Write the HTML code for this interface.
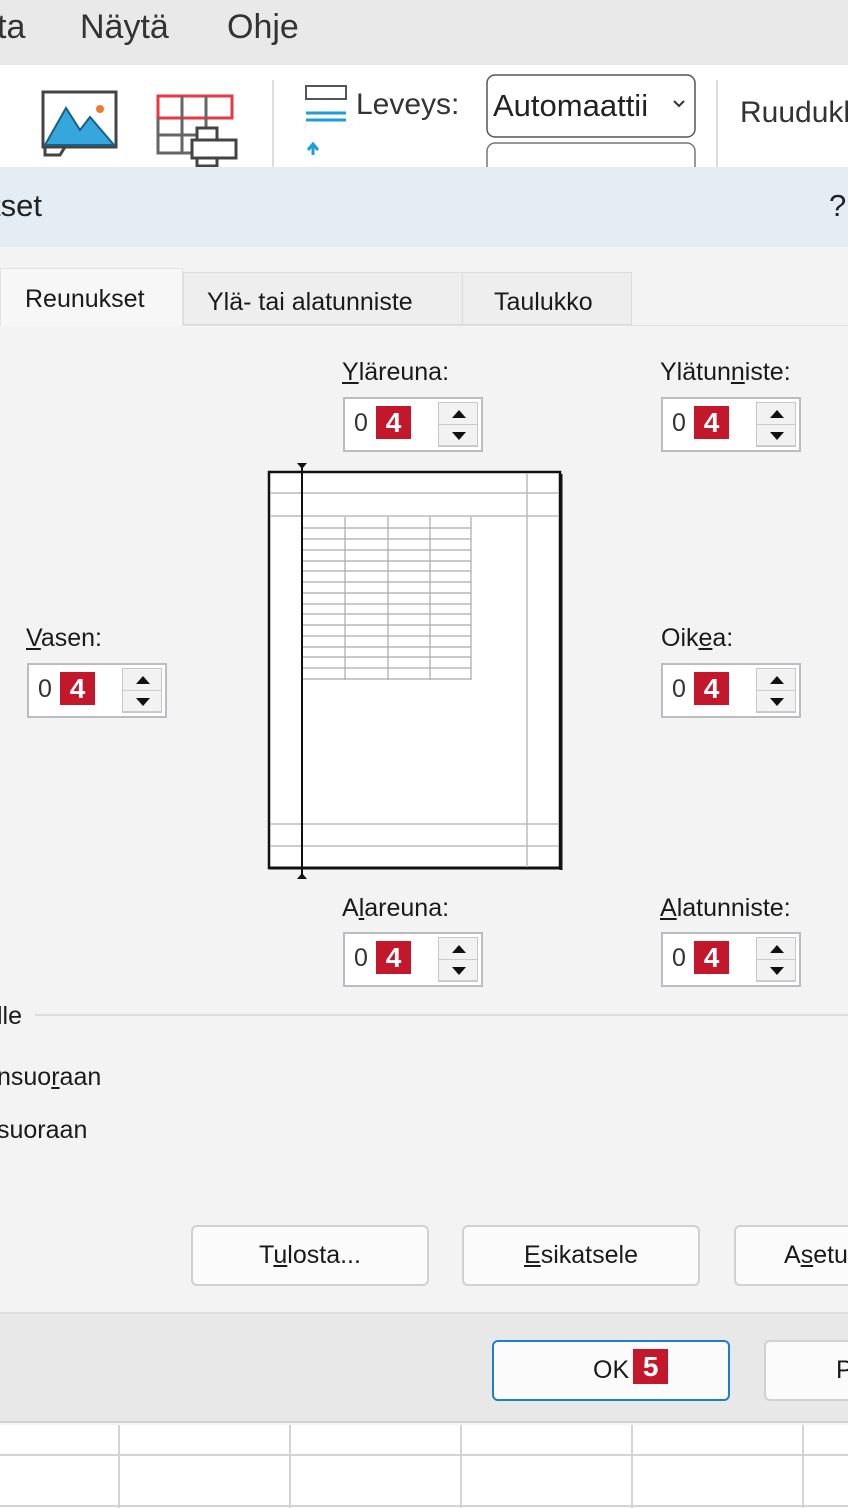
<!DOCTYPE html>
<html><head><meta charset="utf-8"><style>
*{margin:0;padding:0;box-sizing:border-box}
body{width:848px;height:1508px;position:relative;overflow:hidden;background:#f4f4f4;font-family:"Liberation Sans",sans-serif;color:#1a1a1a}
.a{position:absolute;white-space:nowrap}
.lbl{font-size:25px}
.box{position:absolute;width:140px;height:55px;border:2px solid #b9bcc0;background:#fff}
.box .z{position:absolute;left:9px;top:10px;font-size:25px;color:#333}
.box .b{position:absolute;left:31px;top:7px;width:35px;height:33px;background:#c3172b;color:#fff;font-weight:bold;font-size:28px;text-align:center;line-height:33px}
.box .sp{position:absolute;left:93px;top:3px;width:40px;height:45px;background:#f2f2f2;border:1px solid #c8c8c8}
.box .sp div{height:50%;border-bottom:1px solid #ccc;position:relative}
.tri-u{position:absolute;left:13px;top:7px;border-left:7px solid transparent;border-right:7px solid transparent;border-bottom:8px solid #111}
.tri-d{position:absolute;left:13px;top:7px;border-left:7px solid transparent;border-right:7px solid transparent;border-top:8px solid #111}
.btn{position:absolute;height:61px;border:2px solid #cfd1d3;border-radius:6px;background:#fbfbfb;font-size:25px;text-align:center;line-height:57px}
</style></head><body>
<div class="a" style="left:0;top:0;width:848px;height:65px;background:#e9e9e9"></div>
<div class="a" style="left:-3px;top:8px;font-size:34px;color:#333">ta</div>
<div class="a" style="left:80px;top:8px;font-size:34px;color:#333">Näytä</div>
<div class="a" style="left:227px;top:8px;font-size:34px;color:#333">Ohje</div>
<div class="a" style="left:0;top:65px;width:848px;height:102px;background:#fff"></div>
<svg class="a" style="left:0;top:65px" width="848" height="102">
<rect x="43" y="27" width="73" height="55" fill="#fff" stroke="#444" stroke-width="3"/>
<path d="M45 80 L66 43 L80 65 L90 52 L114 80 Z" fill="#36a7dc" stroke="#1b5f86" stroke-width="2"/>
<circle cx="100" cy="44" r="4" fill="#f07a2a"/>
<path d="M45 82 L45 90 L60 90 L65 82" fill="none" stroke="#444" stroke-width="3"/>
<rect x="158" y="31" width="74" height="22" fill="none" stroke="#e53a46" stroke-width="3"/>
<path d="M182 31V88M206 31V88M158 53V88H196M158 70H200" fill="none" stroke="#666" stroke-width="3"/>
<rect x="197" y="63" width="20" height="38" fill="#fff" stroke="#444" stroke-width="3"/>
<rect x="192" y="75" width="44" height="18" fill="#fff" stroke="#444" stroke-width="3"/>
<line x1="273" y1="15" x2="273" y2="102" stroke="#ddd" stroke-width="2"/>
<rect x="306" y="21" width="40" height="13" fill="none" stroke="#555" stroke-width="2"/>
<path d="M306 48h40" stroke="#1a9fd6" stroke-width="3"/><path d="M306 55h40" stroke="#1a9fd6" stroke-width="3" stroke-dasharray="0"/>
<path d="M313 90V80M308 85l5-6 5 6" stroke="#1a9fd6" stroke-width="3" fill="none"/>
<rect x="487" y="10" width="208" height="62" rx="8" fill="#fff" stroke="#555" stroke-width="1.5"/>
<rect x="487" y="78" width="208" height="40" rx="8" fill="#fff" stroke="#777" stroke-width="1.5"/>
<path d="M674 36l5 5 5-5" stroke="#333" stroke-width="2" fill="none"/>
<line x1="717" y1="15" x2="717" y2="102" stroke="#ddd" stroke-width="2"/>
</svg>
<div class="a" style="left:356px;top:88px;font-size:30px;color:#333">Leveys:</div>
<div class="a" style="left:493px;top:88px;font-size:31px;color:#222">Automaattii</div>
<div class="a" style="left:740px;top:96px;font-size:30px;color:#333">Ruudukl</div>
<div class="a" style="left:0;top:167px;width:848px;height:80px;background:#e3edf3"></div>
<div class="a" style="left:-8px;top:188px;font-size:31px;color:#222">tset</div>
<div class="a" style="left:829px;top:188px;font-size:31px;color:#222">?</div>
<div class="a" style="left:0;top:247px;width:848px;height:1065px;background:#f3f3f3"></div>
<div class="a" style="left:0;top:325px;width:848px;height:1px;background:#e0e0e0"></div>
<div class="a" style="left:0;top:268px;width:183px;height:58px;background:#f7f7f7;border:1px solid #e2e2e2;border-bottom:none"></div>
<div class="a" style="left:183px;top:272px;width:280px;height:53px;background:#eeeeee;border:1px solid #dcdcdc"></div>
<div class="a" style="left:462px;top:272px;width:170px;height:53px;background:#eeeeee;border:1px solid #dcdcdc"></div>
<div class="a lbl" style="left:25px;top:285px">Reunukset</div>
<div class="a lbl" style="left:207px;top:288px">Ylä- tai alatunniste</div>
<div class="a lbl" style="left:494px;top:288px">Taulukko</div>

<div class="a lbl" style="left:342px;top:358px"><u>Y</u>läreuna:</div>
<div class="a lbl" style="left:660px;top:358px">Ylätun<u>n</u>iste:</div>
<div class="a lbl" style="left:26px;top:624px"><u>V</u>asen:</div>
<div class="a lbl" style="left:661px;top:624px">Oik<u>e</u>a:</div>
<div class="a lbl" style="left:342px;top:894px">A<u>l</u>areuna:</div>
<div class="a lbl" style="left:660px;top:894px"><u>A</u>latunniste:</div>

<div class="box" style="left:343px;top:397px"><span class="z">0</span><span class="b">4</span><div class="sp"><div><i class="tri-u"></i></div><div><i class="tri-d"></i></div></div></div>
<div class="box" style="left:661px;top:397px"><span class="z">0</span><span class="b">4</span><div class="sp"><div><i class="tri-u"></i></div><div><i class="tri-d"></i></div></div></div>
<div class="box" style="left:27px;top:663px"><span class="z">0</span><span class="b">4</span><div class="sp"><div><i class="tri-u"></i></div><div><i class="tri-d"></i></div></div></div>
<div class="box" style="left:661px;top:663px"><span class="z">0</span><span class="b">4</span><div class="sp"><div><i class="tri-u"></i></div><div><i class="tri-d"></i></div></div></div>
<div class="box" style="left:343px;top:932px"><span class="z">0</span><span class="b">4</span><div class="sp"><div><i class="tri-u"></i></div><div><i class="tri-d"></i></div></div></div>
<div class="box" style="left:661px;top:932px"><span class="z">0</span><span class="b">4</span><div class="sp"><div><i class="tri-u"></i></div><div><i class="tri-d"></i></div></div></div>

<svg class="a" style="left:260px;top:455px" width="310" height="430">
<rect x="9" y="17" width="291" height="396" fill="#fff" stroke="#111" stroke-width="2.5"/>
<line x1="301" y1="19" x2="301" y2="415" stroke="#111" stroke-width="3"/>
<line x1="9" y1="413" x2="301" y2="413" stroke="#111" stroke-width="3"/>
<g stroke="#bbb" stroke-width="1.5">
<line x1="10" y1="38" x2="299" y2="38"/><line x1="10" y1="61" x2="299" y2="61"/>
<line x1="10" y1="369" x2="299" y2="369"/><line x1="10" y1="391" x2="299" y2="391"/>
<line x1="267" y1="18" x2="267" y2="412"/>
</g>
<g stroke="#aaa" stroke-width="1.2">
<line x1="85" y1="62" x2="85" y2="225"/><line x1="128" y1="62" x2="128" y2="225"/><line x1="170" y1="62" x2="170" y2="225"/><line x1="211" y1="62" x2="211" y2="225"/>
<line x1="42" y1="73" x2="211" y2="73"/><line x1="42" y1="84" x2="211" y2="84"/><line x1="42" y1="95" x2="211" y2="95"/><line x1="42" y1="106" x2="211" y2="106"/><line x1="42" y1="116" x2="211" y2="116"/><line x1="42" y1="127" x2="211" y2="127"/><line x1="42" y1="138" x2="211" y2="138"/><line x1="42" y1="149" x2="211" y2="149"/><line x1="42" y1="159" x2="211" y2="159"/><line x1="42" y1="170" x2="211" y2="170"/><line x1="42" y1="181" x2="211" y2="181"/><line x1="42" y1="192" x2="211" y2="192"/><line x1="42" y1="202" x2="211" y2="202"/><line x1="42" y1="213" x2="211" y2="213"/><line x1="42" y1="224" x2="211" y2="224"/>
</g>
<line x1="42" y1="12" x2="42" y2="420" stroke="#111" stroke-width="2"/>
<path d="M37 8h10l-5 6z" fill="#111"/><path d="M37 424h10l-5 -6z" fill="#111"/>
</svg>

<div class="a lbl" style="left:-3px;top:1002px">lle</div>
<div class="a" style="left:35px;top:1014px;width:813px;height:2px;background:#dcdcdc"></div>
<div class="a lbl" style="left:-3px;top:1063px">nsuo<u>r</u>aan</div>
<div class="a lbl" style="left:-3px;top:1116px">suoraan</div>

<div class="btn" style="left:191px;top:1225px;width:238px">T<u>u</u>losta...</div>
<div class="btn" style="left:462px;top:1225px;width:238px"><u>E</u>sikatsele</div>
<div class="btn" style="left:734px;top:1225px;width:140px;text-align:left;padding-left:48px">A<u>s</u>etu</div>

<div class="a" style="left:0;top:1312px;width:848px;height:111px;background:#e8e8e8;border-top:2px solid #dedede;border-bottom:2px solid #d4d4d4"></div>
<div class="btn" style="left:492px;top:1340px;width:238px;border-color:#1f7fc4;text-align:left;padding-left:99px">OK<span style="display:inline-block;margin-left:4px;width:35px;height:35px;background:#c3172b;color:#fff;font-weight:bold;font-size:28px;line-height:35px;text-align:center;vertical-align:2px">5</span></div>
<div class="btn" style="left:764px;top:1340px;width:140px;text-align:left;padding-left:70px">P</div>

<div class="a" style="left:0;top:1425px;width:848px;height:83px;background:#fff"></div>
<svg class="a" style="left:0;top:1425px" width="848" height="83">
<g stroke="#d4d4d4" stroke-width="2"><line x1="0" y1="30" x2="848" y2="30"/><line x1="0" y1="81" x2="848" y2="81"/>
<line x1="119" y1="0" x2="119" y2="83"/><line x1="290" y1="0" x2="290" y2="83"/><line x1="461" y1="0" x2="461" y2="83"/><line x1="632" y1="0" x2="632" y2="83"/><line x1="803" y1="0" x2="803" y2="83"/></g>
</svg>
</body></html>
